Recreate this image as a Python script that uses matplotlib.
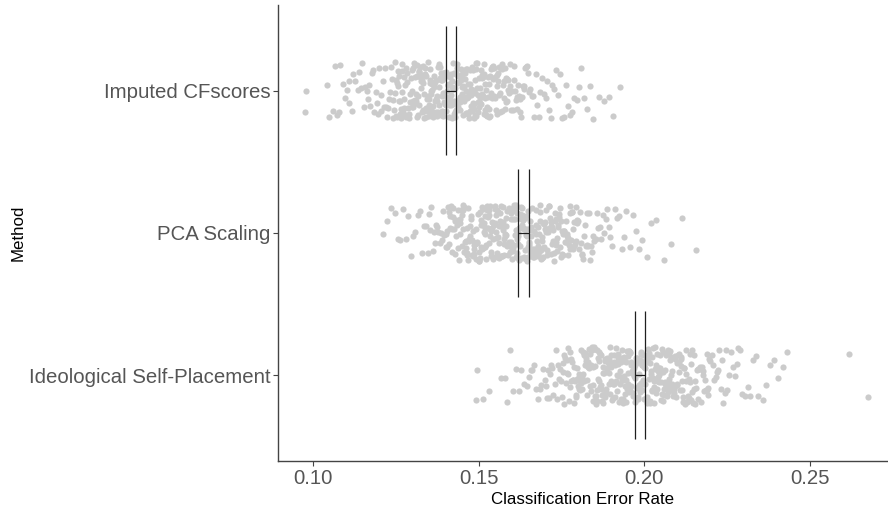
import numpy as np
import matplotlib
matplotlib.use("Agg")
from matplotlib import pyplot as plt

plt.rcParams['font.family'] = ['Liberation Sans', 'DejaVu Sans']

# categories, top to bottom
methods = ["Imputed CFscores", "PCA Scaling", "Ideological Self-Placement"]

# classification error rates (units of 1e-4)
imputed = [
    978, 981, 1042, 1048,
    1061, 1068, 1074, 1080, 1083, 1091, 1097,
    1103, 1108, 1110, 1119, 1121, 1127, 1135, 1138, 1144,
    1150, 1155, 1157, 1163, 1166, 1170, 1174, 1179, 1183, 1186, 1190, 1195, 1198,
    1200, 1205, 1206, 1211, 1214, 1218, 1220, 1224, 1227, 1229, 1232, 1236, 1238, 1241, 1243, 1246, 1248, 1249,
    1251, 1252, 1255, 1257, 1258, 1260, 1262, 1264, 1265, 1267, 1269, 1270, 1272, 1274, 1275, 1277, 1279,
    1280, 1282, 1284, 1286, 1289, 1291, 1294, 1296, 1299,
    1300, 1301, 1303, 1304, 1306, 1307, 1309, 1311, 1312, 1314, 1315, 1317, 1318, 1320, 1321, 1323, 1325,
    1326, 1328, 1329, 1331, 1332, 1334, 1335, 1337, 1338, 1340, 1341, 1343, 1345, 1346, 1348, 1349,
    1350, 1351, 1352, 1354, 1355, 1356, 1358, 1359, 1360, 1362, 1363, 1364, 1366, 1367, 1368, 1370, 1371,
    1372, 1374, 1375, 1377, 1378, 1379, 1381, 1382, 1383, 1385, 1386, 1388, 1389, 1390, 1392, 1393, 1394,
    1396, 1397, 1398, 1399,
    1400, 1401, 1402, 1404, 1405, 1406, 1407, 1409, 1410, 1411, 1413, 1414, 1415, 1416, 1418, 1419, 1420,
    1422, 1423, 1424, 1425, 1427, 1428, 1429, 1431, 1432, 1433, 1434, 1436, 1437, 1438, 1440, 1441, 1442,
    1443, 1445, 1446, 1447, 1448, 1449,
    1450, 1451, 1453, 1454, 1455, 1457, 1458, 1459, 1461, 1462, 1463, 1465, 1466, 1467, 1469, 1470, 1471,
    1473, 1474, 1475, 1477, 1478, 1480, 1481, 1482, 1484, 1485, 1487, 1488, 1490, 1491, 1493, 1494, 1496,
    1497, 1499,
    1500, 1502, 1503, 1505, 1506, 1508, 1509, 1511, 1513, 1514, 1516, 1517, 1519, 1520, 1522, 1524, 1525,
    1527, 1528, 1530, 1532, 1533, 1535, 1537, 1538, 1540, 1542, 1543, 1545, 1547, 1549,
    1551, 1553, 1555, 1557, 1558, 1560, 1562, 1564, 1566, 1568, 1570, 1572, 1574, 1576, 1578, 1580, 1582,
    1584, 1586, 1588, 1590, 1592, 1595, 1598,
    1601, 1604, 1607, 1609, 1612, 1615, 1618, 1621, 1624, 1627, 1630, 1633, 1636, 1639, 1642, 1645, 1648,
    1652, 1656, 1660, 1664, 1668, 1672, 1677, 1681, 1686, 1691, 1697,
    1702, 1707, 1712, 1718, 1723, 1729, 1734, 1740, 1746,
    1752, 1758, 1764, 1770, 1776, 1782, 1789, 1796,
    1802, 1809, 1818, 1827, 1836, 1845,
    1862, 1879, 1893, 1906, 1928,
    1253, 1261, 1268, 1276, 1283, 1292, 1298, 1302, 1308, 1313, 1319, 1324, 1330, 1336, 1342, 1347,
    1353, 1357, 1361, 1365, 1369, 1373, 1376, 1380, 1384, 1387, 1391, 1395, 1403, 1408, 1412, 1417,
    1421, 1426, 1430, 1435, 1439, 1444, 1452, 1456, 1460, 1464, 1468, 1472, 1476, 1479, 1483, 1486,
    1489, 1492, 1498, 1504, 1510, 1515, 1521, 1526, 1531, 1536, 1544, 1548, 1556, 1563, 1571, 1579,
    1587, 1596, 1606, 1616, 1626, 1638,
]
pca = [
    1212, 1224, 1236, 1247,
    1256, 1263, 1271, 1280, 1288, 1296,
    1303, 1309, 1316, 1322, 1329, 1335, 1341, 1347,
    1351, 1355, 1358, 1362, 1365, 1368, 1372, 1375, 1379, 1383, 1386, 1390, 1394, 1397,
    1401, 1403, 1405, 1408, 1410, 1412, 1415, 1417, 1419, 1422, 1424, 1426, 1429, 1431, 1433, 1436, 1438,
    1440, 1443, 1445, 1447, 1449,
    1450, 1452, 1454, 1455, 1457, 1459, 1461, 1462, 1464, 1466, 1468, 1469, 1471, 1473, 1475, 1476, 1478,
    1480, 1482, 1483, 1485, 1487, 1489, 1490, 1492, 1494, 1496, 1498,
    1500, 1502, 1503, 1505, 1506, 1508, 1509, 1511, 1512, 1514, 1515, 1517, 1518, 1520, 1521, 1523, 1524,
    1526, 1527, 1529, 1530, 1532, 1533, 1535, 1536, 1538, 1539, 1541, 1542, 1544, 1545, 1547, 1549,
    1550, 1551, 1553, 1554, 1556, 1557, 1559, 1560, 1561, 1563, 1564, 1566, 1567, 1568, 1570, 1571, 1573,
    1574, 1575, 1577, 1578, 1580, 1581, 1582, 1584, 1585, 1587, 1588, 1589, 1591, 1592, 1594, 1595, 1596,
    1598, 1599,
    1600, 1601, 1603, 1604, 1605, 1607, 1608, 1609, 1611, 1612, 1613, 1615, 1616, 1617, 1619, 1620, 1621,
    1623, 1624, 1626, 1627, 1628, 1630, 1631, 1632, 1634, 1635, 1636, 1638, 1639, 1640, 1642, 1643, 1645,
    1646, 1647, 1649,
    1650, 1651, 1653, 1654, 1656, 1657, 1658, 1660, 1661, 1663, 1664, 1665, 1667, 1668, 1670, 1671, 1672,
    1674, 1675, 1677, 1678, 1680, 1681, 1682, 1684, 1685, 1687, 1688, 1690, 1691, 1692, 1694, 1695, 1697,
    1699,
    1700, 1702, 1703, 1705, 1707, 1708, 1710, 1712, 1713, 1715, 1717, 1718, 1720, 1722, 1723, 1725, 1727,
    1728, 1730, 1732, 1733, 1735, 1737, 1738, 1740, 1742, 1743, 1745, 1747, 1749,
    1751, 1753, 1755, 1757, 1759, 1761, 1763, 1765, 1767, 1769, 1771, 1773, 1775, 1777, 1779, 1781, 1783,
    1785, 1787, 1789, 1791, 1793, 1795, 1798,
    1801, 1804, 1807, 1810, 1813, 1816, 1819, 1822, 1825, 1828, 1831, 1834, 1837, 1840, 1843, 1846, 1849,
    1853, 1857, 1861, 1866, 1870, 1874, 1879, 1883, 1888, 1892, 1897,
    1904, 1911, 1918, 1925, 1932, 1939, 1946,
    1956, 1965, 1974, 1983, 1992,
    2008, 2021, 2036, 2058, 2079, 2115, 2157,
    1406, 1414, 1421, 1428, 1437, 1444, 1453, 1458, 1465, 1472, 1479, 1486, 1493, 1501, 1507, 1513,
    1519, 1525, 1531, 1537, 1543, 1548, 1552, 1558, 1562, 1569, 1576, 1583, 1590, 1597, 1602, 1606,
    1610, 1614, 1618, 1622, 1625, 1629, 1633, 1637, 1641, 1644, 1648, 1652, 1659, 1666, 1673, 1679,
    1686, 1693, 1698, 1704, 1711, 1719, 1726, 1734, 1741, 1748, 1756, 1766, 1776, 1786, 1797, 1811,
    1826,
]
self_placement = [
    1493, 1496, 1514, 1532,
    1568, 1579, 1587, 1596,
    1604, 1612, 1621, 1629, 1637, 1646,
    1652, 1657, 1662, 1667, 1672, 1678, 1684, 1689, 1695,
    1701, 1704, 1707, 1710, 1714, 1717, 1720, 1723, 1726, 1730, 1733, 1736, 1740, 1743, 1747,
    1750, 1752, 1755, 1757, 1759, 1762, 1764, 1766, 1769, 1771, 1773, 1775, 1778, 1780, 1782, 1785, 1787,
    1789, 1792, 1794, 1796, 1798,
    1800, 1802, 1804, 1805, 1807, 1809, 1811, 1812, 1814, 1816, 1818, 1820, 1821, 1823, 1825, 1827, 1828,
    1830, 1832, 1834, 1836, 1837, 1839, 1841, 1843, 1845, 1846, 1848,
    1850, 1852, 1853, 1855, 1856, 1858, 1859, 1861, 1862, 1864, 1865, 1867, 1868, 1870, 1871, 1873, 1874,
    1876, 1877, 1879, 1880, 1882, 1883, 1885, 1886, 1888, 1889, 1891, 1892, 1894, 1895, 1897, 1899,
    1900, 1901, 1903, 1904, 1906, 1907, 1908, 1910, 1911, 1913, 1914, 1915, 1917, 1918, 1920, 1921, 1922,
    1924, 1925, 1927, 1928, 1929, 1931, 1932, 1934, 1935, 1936, 1938, 1939, 1941, 1942, 1943, 1945, 1946,
    1948, 1949,
    1950, 1951, 1952, 1954, 1955, 1956, 1958, 1959, 1960, 1962, 1963, 1964, 1966, 1967, 1968, 1970, 1971,
    1972, 1974, 1975, 1976, 1978, 1979, 1980, 1982, 1983, 1984, 1986, 1987, 1988, 1990, 1991, 1992, 1994,
    1995, 1996, 1998, 1999,
    2000, 2001, 2003, 2004, 2006, 2007, 2008, 2010, 2011, 2013, 2014, 2015, 2017, 2018, 2020, 2021, 2022,
    2024, 2025, 2027, 2028, 2029, 2031, 2032, 2034, 2035, 2036, 2038, 2039, 2041, 2042, 2043, 2045, 2046,
    2048, 2049,
    2050, 2052, 2053, 2055, 2056, 2058, 2059, 2061, 2062, 2064, 2065, 2067, 2068, 2070, 2071, 2073, 2074,
    2076, 2077, 2079, 2080, 2082, 2083, 2085, 2086, 2088, 2089, 2091, 2092, 2094, 2096, 2098,
    2100, 2102, 2104, 2106, 2108, 2110, 2112, 2113, 2115, 2117, 2119, 2121, 2123, 2125, 2127, 2129, 2131,
    2133, 2135, 2137, 2139, 2141, 2143, 2145, 2147, 2149,
    2152, 2154, 2157, 2159, 2162, 2165, 2167, 2170, 2172, 2175, 2178, 2180, 2183, 2185, 2188, 2191, 2193,
    2196, 2198,
    2203, 2207, 2211, 2215, 2219, 2223, 2226, 2230, 2234, 2238, 2242, 2245, 2249,
    2255, 2261, 2267, 2273, 2279, 2284, 2290, 2296,
    2304, 2312, 2320, 2328, 2336, 2344,
    2357, 2368, 2379, 2391, 2404, 2417, 2431,
    2618, 2676,
    1756, 1768, 1777, 1786, 1795, 1803, 1810, 1817, 1824, 1831, 1838, 1844, 1851, 1857, 1863, 1869,
    1875, 1881, 1887, 1893, 1898, 1902, 1909, 1916, 1923, 1930, 1937, 1944, 1953, 1957, 1961, 1965,
    1969, 1973, 1977, 1981, 1985, 1989, 1993, 1997, 2002, 2009, 2016, 2023, 2030, 2037, 2044, 2051,
    2057, 2063, 2069, 2075, 2081, 2087, 2093, 2099, 2105, 2111, 2118, 2126, 2134, 2142, 2151, 2163,
    2177, 2189,
]

# interval around the mean for each method (drawn as the tall bars)
ci_low = [0.1403, 0.1620, 0.1971]
ci_high = [0.1431, 0.1651, 0.2001]

series = [imputed, pca, self_placement]
ypos = [3, 2, 1]

fig = plt.figure(figsize=(8.88, 5.07), dpi=100)
ax = fig.add_axes([0.313, 0.091, 0.687, 0.899])

# vertical jitter only (positions, not data), like geom_jitter
rng = np.random.default_rng(11)
for vals, y in zip(series, ypos):
    x = np.array(vals) / 10000
    jit = rng.uniform(-0.2, 0.2, len(x))
    ax.scatter(x, y + jit, s=20, color='#cbcbcb', linewidths=0, zorder=2)

for lo, hi, y in zip(ci_low, ci_high, ypos):
    ax.vlines([lo, hi], y - 0.45, y + 0.45, color='#1f1f1f', lw=0.9, zorder=3)
    ax.hlines(y, lo, hi, color='#1f1f1f', lw=0.9, zorder=3)

ax.set_xlim(0.0895, 0.2735)
ax.set_ylim(0.4, 3.6)
ax.set_xticks([0.10, 0.15, 0.20, 0.25])
ax.set_xticklabels(['0.10', '0.15', '0.20', '0.25'])
ax.set_yticks(ypos)
ax.set_yticklabels(methods)

for s in ['top', 'right']:
    ax.spines[s].set_visible(False)
for s in ['left', 'bottom']:
    ax.spines[s].set_color('#444444')
    ax.spines[s].set_linewidth(1.0)

ax.tick_params(axis='both', colors='#444444', labelcolor='#555555',
               labelsize=14.7, length=3.5, width=0.8, pad=2)

ax.set_xlabel('Classification Error Rate', fontsize=12.2, color='black', labelpad=3)
ax.set_ylabel('Method', fontsize=12.2, color='black', labelpad=2)

fig.savefig('out.png', dpi=100)
